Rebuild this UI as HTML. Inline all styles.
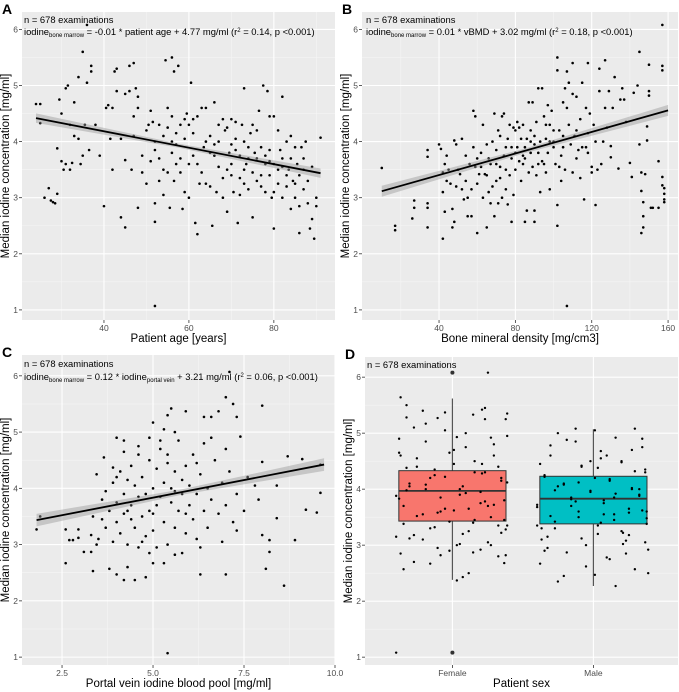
<!DOCTYPE html>
<html><head><meta charset="utf-8"><style>
body{margin:0;background:#fff}
svg{display:block;font-family:"Liberation Sans",Arial,sans-serif}
</style></head><body>
<svg id="fig" width="679" height="692" viewBox="0 0 679 692"></svg>
<script>
// ---- data ----
const ageTicks=[40,60,80];
const bmdTicks=[40,80,120,160];
const portalTicks=[2.5,5.0,7.5,10.0];
const yTicks=[1,2,3,4,5,6];
const sexCategories=["Female","Male"];
const agePoints=[[24,4.67],[25,4.67],[25,4.33],[26,3.0],[27,3.17],[27.5,2.95],[28,2.92],[28.5,2.9],[29,3.07],[29,3.88],[29.5,4.75],[30,4.5],[30,3.65],[30.5,3.5],[31,4.95],[31.5,5.0],[31,3.6],[32,3.5],[32,4.3],[32.5,3.62],[33,4.7],[33,4.1],[34,5.15],[34,4.05],[34.5,3.6],[35,5.6],[35,3.75],[35.5,4.3],[36,5.05],[36,6.08],[36.5,3.85],[37,5.35],[37,5.25],[38,4.3],[39,3.75],[40,2.85],[40.5,4.6],[41,4.65],[41.5,4.05],[42,4.6],[42,3.5],[42.5,5.25],[43,5.3],[43,4.9],[44,4.05],[44,2.65],[45,2.47],[45,4.85],[45,3.67],[46,5.35],[46,4.9],[46.5,3.5],[47,5.4],[47,4.45],[47.5,4.95],[48,4.6],[48,4.8],[49,3.75],[50,4.2],[50.5,4.3],[51,3.65],[51.5,4.35],[52,4.0],[52,3.85],[53,4.3],[53,3.7],[54,4.1],[54,3.5],[54.5,5.45],[55,3.45],[55,4.25],[55.5,2.82],[56,4.0],[56,3.8],[56.5,3.3],[57,4.15],[57,3.95],[57.5,5.35],[58,4.3],[58,3.45],[58.5,2.8],[59,3.1],[59,4.05],[59.5,4.5],[60,3.6],[60,4.3],[60.5,5.05],[61,4.4],[61,3.75],[61.5,2.55],[62,4.45],[62,2.35],[62.5,3.25],[52,1.07],[63,4.6],[63.5,3.9],[64,4.6],[64,3.25],[56,5.5],[56.5,5.25],[65,4.1],[65.5,2.5],[66,3.95],[66,4.7],[66.5,3.1],[67,4.3],[67,3.55],[73,4.95],[68,4.4],[68,3.0],[68.5,4.2],[69,4.25],[69,2.75],[69.5,3.8],[70,3.4],[70,4.4],[70.5,3.1],[71,4.35],[71,4.05],[71.5,2.55],[72,3.75],[72,3.35],[72.5,4.3],[73,3.5],[73,4.0],[73.5,3.6],[74,3.15],[74,3.7],[74.5,4.15],[75,3.45],[75,2.65],[75.5,3.8],[76,3.7],[76,3.3],[76.5,4.55],[77,3.9],[77,3.4],[77.5,5.0],[78,3.6],[78,3.1],[78.5,4.9],[79,3.4],[79,4.45],[79.5,3.0],[80,4.45],[80,3.1],[80,2.45],[81,3.25],[81,4.2],[81.5,3.85],[82,3.0],[82,3.55],[82,4.8],[83,3.2],[83,4.0],[83.5,3.5],[84,2.8],[84,4.1],[84.5,3.3],[85,3.9],[85,3.0],[85.5,3.6],[86,3.4],[86,2.85],[86.5,3.9],[87,3.15],[87,3.7],[87.5,4.0],[88,3.3],[88,2.9],[88.5,2.45],[86,2.37],[89,3.55],[89,2.62],[89.5,2.27],[90,3.0],[90,2.85],[91,4.07],[50,3.25],[52,2.9],[52,2.57],[54,3.05],[60,3.0],[65,3.2],[68,3.35],[70,3.95],[73,3.25],[76,4.2],[79,3.85],[82,3.7],[85,3.25],[58,3.7],[62,3.6],[66,3.75],[70,3.6],[74,3.9],[78,3.75],[84,3.7],[48,2.82],[49,3.45],[51,4.55],[53,3.3],[55,4.6],[57,3.6],[59,4.4],[61,4.15],[63,3.45],[65,3.8],[67,4.0],[69,3.5],[71,3.85],[75,4.3],[77,3.2],[79,3.65],[81,3.5],[83,3.4],[87,3.5],[80,3.6],[72,3.05],[64,4.0],[56,4.45],[47,4.1]];
const bmdPoints=[[10,3.53],[17,2.5],[17,2.42],[26,2.63],[27,2.95],[27,2.82],[34,3.85],[34,3.73],[34,2.9],[34,2.82],[34,2.47],[40,3.95],[41,3.87],[42,2.27],[42,3.1],[42,3.45],[43,3.6],[43,2.75],[44,3.75],[44,3.3],[45,3.5],[46,3.25],[47,2.8],[47,2.47],[48,2.57],[48,4.02],[49,3.95],[49,3.2],[50,3.5],[51,3.42],[52,4.05],[52,3.15],[53,2.97],[54,3.3],[55,2.67],[55,3.0],[56,3.6],[57,2.67],[57,3.15],[58,3.9],[58,4.55],[59,4.45],[59,3.55],[60,2.37],[60,3.25],[61,3.42],[62,3.8],[63,4.3],[63,3.0],[64,3.42],[65,2.47],[65,3.95],[66,3.7],[67,2.9],[67,3.6],[68,4.0],[68,3.2],[69,4.5],[69,2.67],[70,3.85],[70,3.3],[71,4.2],[71,2.9],[72,3.55],[72,4.1],[73,4.45],[73,3.0],[74,3.75],[74,4.5],[75,3.15],[75,3.9],[76,4.05],[76,2.88],[77,3.4],[77,4.3],[78,2.57],[78,3.7],[79,3.05],[80,4.2],[80,3.5],[81,4.35],[81,3.9],[82,3.65],[82,4.25],[83,3.3],[83,4.05],[84,4.3],[84,3.75],[85,3.9],[85,2.57],[86,2.77],[86,4.05],[87,3.45],[87,4.7],[88,3.8],[88,4.2],[89,3.55],[89,4.7],[90,2.57],[90,2.77],[90,3.95],[91,3.4],[91,4.35],[92,4.95],[92,3.8],[93,3.1],[93,4.0],[94,4.95],[94,3.65],[95,4.45],[96,4.05],[96,3.45],[97,4.65],[97,3.8],[98,4.3],[98,3.15],[99,4.55],[100,3.9],[100,4.2],[101,3.6],[102,2.87],[102,2.5],[102,5.5],[102,5.27],[103,4.2],[103,3.55],[104,3.3],[105,4.7],[105,3.9],[106,3.5],[106,4.95],[107,5.25],[107,1.07],[107,4.6],[108,4.3],[108,5.05],[109,3.95],[110,4.85],[110,3.45],[110,5.4],[111,4.1],[112,3.7],[112,4.8],[113,3.85],[114,4.4],[114,3.35],[115,5.05],[115,3.9],[116,2.97],[117,4.6],[117,3.9],[118,5.4],[118,4.15],[119,4.5],[120,3.45],[120,3.55],[121,4.3],[122,2.87],[122,4.0],[123,3.5],[124,5.3],[124,4.9],[125,3.6],[126,4.0],[127,5.45],[127,4.6],[128,4.25],[129,4.9],[130,3.92],[130,3.72],[131,4.6],[132,5.15],[134,3.52],[135,4.75],[136,4.95],[137,4.75],[138,4.35],[140,3.62],[141,3.37],[142,4.87],[144,5.0],[145,5.6],[145,3.95],[146,3.45],[146,3.12],[146,2.37],[147,2.47],[147,2.67],[147,2.92],[148,3.42],[149,4.27],[149,4.02],[150,4.9],[150,4.82],[150,5.37],[151,2.82],[152,2.82],[155,2.82],[155,3.65],[157,6.08],[157,5.35],[157,5.27],[157,3.37],[157,3.22],[158,3.17],[158,3.07],[158,2.97],[158,2.92],[60,3.7],[65,3.4],[70,3.6],[75,3.5],[80,3.8],[85,3.7],[90,4.1],[95,3.6],[100,4.0],[105,4.1],[62,3.55],[78,3.9],[88,4.0],[98,4.0],[66,3.1],[72,3.35],[79,4.25],[84,3.6],[92,3.6],[96,4.3],[104,3.75],[112,4.2],[118,3.8],[54,3.75]];
const portalPoints=[[1.8,3.27],[1.9,3.5],[2.6,2.67],[2.6,3.27],[2.7,3.08],[2.8,3.08],[2.95,3.27],[2.95,3.12],[3.1,2.87],[3.3,2.87],[3.3,3.17],[3.35,2.53],[3.35,3.5],[3.45,4.25],[3.45,3.0],[3.65,4.55],[3.8,2.57],[3.9,4.37],[4.0,2.47],[4.0,4.9],[4.2,4.85],[4.2,2.37],[4.3,2.6],[4.5,2.37],[4.8,2.42],[4.9,4.9],[5.0,5.17],[5.0,2.67],[5.4,4.6],[5.4,5.3],[5.5,5.42],[5.4,1.07],[5.3,2.67],[5.6,2.82],[5.9,5.37],[6.3,2.47],[6.4,5.27],[6.6,5.27],[6.8,5.37],[7.0,5.62],[7.1,6.07],[7.2,5.5],[7.0,2.47],[7.3,5.27],[7.4,4.92],[8.0,5.47],[8.0,4.47],[8.2,2.87],[8.1,2.57],[8.4,3.47],[8.6,2.27],[8.7,4.57],[8.9,3.08],[9.1,4.52],[9.2,3.62],[9.5,3.57],[9.6,3.92],[9.6,4.42],[7.8,4.05],[7.6,4.2],[7.9,3.8],[8.0,3.17],[8.2,3.08],[8.4,4.05],[3.6,3.8],[3.7,3.3],[3.8,3.6],[3.9,3.05],[3.9,4.1],[4.0,3.75],[4.0,3.4],[4.1,4.3],[4.1,3.2],[4.2,3.9],[4.2,3.55],[4.3,4.15],[4.3,3.0],[4.4,3.7],[4.4,4.4],[4.5,3.3],[4.5,4.05],[4.6,3.85],[4.6,2.95],[4.6,4.6],[4.7,3.5],[4.7,4.2],[4.8,3.15],[4.8,3.9],[4.9,4.5],[4.9,3.6],[5.0,4.0],[5.0,3.25],[5.1,4.35],[5.1,3.7],[5.1,2.95],[5.2,4.7],[5.2,3.85],[5.3,3.4],[5.3,4.1],[5.4,3.0],[5.4,4.45],[5.5,3.75],[5.5,4.0],[5.6,3.3],[5.6,4.3],[5.7,4.85],[5.7,3.6],[5.8,3.9],[5.8,4.15],[5.9,3.2],[5.9,4.4],[6.0,3.7],[6.0,4.05],[6.1,3.45],[6.1,4.6],[6.2,3.9],[6.2,3.1],[6.3,4.25],[6.4,3.6],[6.5,4.0],[6.5,3.3],[6.6,3.8],[6.7,4.5],[6.8,3.55],[6.9,4.1],[7.0,3.7],[7.1,4.3],[7.2,3.4],[7.3,3.9],[4.4,3.45],[5.0,3.55],[5.6,3.95],[4.2,4.65],[3.6,3.45],[6.3,2.95],[5.8,2.85],[4.9,2.85],[3.5,3.1],[7.0,4.7],[6.6,4.9],[5.3,5.05],[5.6,5.0],[4.6,4.75],[4.0,4.2],[6.9,3.05],[7.3,3.25],[7.5,3.6],[6.4,4.8],[5.2,4.85],[4.7,3.05],[4.3,3.6],[3.7,3.95],[5.9,3.55],[6.2,4.45]];
const femaleValues=[5.28,5.25,5.05,4.95,4.85,4.75,4.65,4.6,4.45,4.4,4.3,4.25,4.15,4.1,4.0,3.95,3.85,3.8,3.7,3.65,3.55,3.5,3.42,3.35,3.3,3.2,3.15,3.05,2.95,2.87,2.82,2.7,2.37,5.64,5.42,5.5,5.45,5.37,5.35,5.17,5.0,4.9,4.8,4.7,4.55,4.5,4.35,4.2,4.05,3.9,3.75,3.6,3.45,3.38,3.25,3.1,3.0,2.9,2.8,2.67,2.43,1.08,6.08,5.27,5.33,5.25,5.1,4.93,4.6,4.45,4.38,4.3,4.22,4.12,4.0,3.93,3.83,3.72,3.62,3.52,3.45,3.32,3.22,3.12,3.02,2.92,2.82,2.68,2.57,2.5,5.4,4.92,4.65,4.4,4.2,4.05,3.88,3.7,3.58,3.4,3.28,3.18,3.0,2.85,4.28,3.98,3.78,3.65,3.35,4.08];
const maleValues=[5.08,5.05,5.0,4.92,4.85,4.75,4.6,4.55,4.48,4.4,4.3,4.22,4.15,4.08,4.0,3.95,3.9,3.85,3.8,3.72,3.65,3.6,3.55,3.48,3.42,3.35,3.3,3.22,3.15,3.08,3.0,2.92,2.87,2.78,2.67,2.57,2.47,2.35,2.27,5.08,4.9,4.78,4.68,4.5,4.42,4.35,4.25,4.18,4.1,4.02,3.97,3.88,3.82,3.75,3.68,3.58,3.5,3.45,3.38,3.3,3.2,3.1,3.02,2.95,2.85,2.62,2.5,4.88,4.6,4.45,4.32,4.2,4.05,3.92,3.78,3.62,3.52,3.4,3.25,3.12,3.05,2.9,2.75,2.45,4.7,4.5,4.0,3.7,3.55,3.35,3.18,4.12,3.85,3.6,3.98,4.38];
const jitterOffsets=[-0.31,0.22,-0.05,0.37,-0.18,0.09,-0.36,0.28,0.01,-0.24,0.15,-0.12,0.33,-0.29,0.05,0.19,-0.08,0.35,-0.33,0.11,-0.2,0.26,-0.02,0.31,-0.15,0.07,-0.38,0.24,-0.1,0.14,0.36,-0.26,0.03,-0.35,0.2];
// box stats: [lowerWhisker, q1, median, q3, upperWhisker]
const femaleBox=[2.38,3.43,3.97,4.33,5.62];
const maleBox=[2.27,3.38,3.83,4.23,5.07];
const femaleOutliers=[6.08,1.08];
const maleOutliers=[];
// regression: [slope, intercept, xStart, xEnd, ciHalfWidth]
const ageFit=[-0.01465,4.77,24,91,0.06];
const bmdFit=[0.0096,3.02,10,160,0.07];
const portalFit=[0.125,3.21,1.8,9.7,0.08];

const NS="http://www.w3.org/2000/svg";
const svg=document.getElementById('fig');
function mk(tag,attrs,parent){const e=document.createElementNS(NS,tag);for(const k in attrs)e.setAttribute(k,attrs[k]);(parent||svg).appendChild(e);return e;}
function scale(d0,d1,r0,r1){return v=>r0+(v-d0)/(d1-d0)*(r1-r0);}

function panel(opt){
  const g=mk('g',{});
  
  
  const X=scale(opt.xd[0],opt.xd[1],opt.x0,opt.x1), Y=scale(opt.yd[0],opt.yd[1],opt.y1,opt.y0);
  const bg=mk('rect',{x:opt.x0,y:opt.y0,width:opt.x1-opt.x0,height:opt.y1-opt.y0,fill:'#EBEBEB'},g);
  
  
  for(let v=1.5;v<6.5;v+=1){mk('line',{x1:opt.x0,x2:opt.x1,y1:Y(v),y2:Y(v),stroke:'#F5F5F5','stroke-width':0.6},g);}
  (opt.xminor||[]).forEach(v=>mk('line',{x1:X(v),x2:X(v),y1:opt.y0,y2:opt.y1,stroke:'#F5F5F5','stroke-width':0.6},g));
  yTicks.forEach(v=>{
    mk('line',{x1:opt.x0,x2:opt.x1,y1:Y(v),y2:Y(v),stroke:'#fff','stroke-width':1.1},g);
    mk('line',{x1:opt.x0-3,x2:opt.x0,y1:Y(v),y2:Y(v),stroke:'#333','stroke-width':0.8},g);
    const t=mk('text',{x:opt.x0-4,y:Y(v)+3,'text-anchor':'end','font-size':8.5,fill:'#4D4D4D'},g);t.textContent=v;
    
    
  });
  opt.xticks.forEach((v,i)=>{
    const px=X(v);
    mk('line',{x1:px,x2:px,y1:opt.y0,y2:opt.y1,stroke:'#fff','stroke-width':1.1},g);
    mk('line',{x1:px,x2:px,y1:opt.y1,y2:opt.y1+3,stroke:'#333','stroke-width':0.8},g);
    const t=mk('text',{x:px,y:opt.y1+11,'text-anchor':'middle','font-size':8.5,fill:'#4D4D4D'},g);
    t.textContent=opt.xlabels?opt.xlabels[i]:(opt.fmt?opt.fmt(v):v);
    
    
  });
  const yt=mk('text',{x:0,y:0,transform:`translate(${opt.x0-13},${(opt.y0+opt.y1)/2}) rotate(-90)`,'text-anchor':'middle','font-size':11.5,fill:'#000'},g);
  yt.textContent='Median iodine concentration [mg/ml]';
  
  
  const xt=mk('text',{x:(opt.x0+opt.x1)/2,y:opt.y1+22,'text-anchor':'middle','font-size':11.5,fill:'#000'},g);
  xt.textContent=opt.xtitle;
  
  
  const lt=mk('text',{x:opt.x0-20,y:opt.y0+2,'font-size':14,'font-weight':'bold',fill:'#000'},g);
  lt.textContent=opt.letter;
  
  
  return {g,X,Y};
}
function scatter(p,pts){pts.forEach(d=>{const c=mk('circle',{cx:p.X(d[0]),cy:p.Y(d[1]),r:1.3,fill:'#000'},p.g);
  
  });}
function fit(p,f){
  const [m,b,xa,xb,ci]=f;const ya=m*xa+b,yb=m*xb+b;
  const band=mk('polygon',{points:`${p.X(xa)},${p.Y(ya+ci*1.4)} ${p.X((xa+xb)/2)},${p.Y(m*(xa+xb)/2+b+ci*0.6)} ${p.X(xb)},${p.Y(yb+ci*1.4)} ${p.X(xb)},${p.Y(yb-ci*1.4)} ${p.X((xa+xb)/2)},${p.Y(m*(xa+xb)/2+b-ci*0.6)} ${p.X(xa)},${p.Y(ya-ci*1.4)}`,fill:'#999','fill-opacity':0.45},p.g);
  
  
  const l=mk('line',{x1:p.X(xa),y1:p.Y(ya),x2:p.X(xb),y2:p.Y(yb),stroke:'#000','stroke-width':1.8},p.g);
  
  
}
function annot(p,x,y,html){
  const t=mk('text',{x:x,y:y,'font-size':9.4,fill:'#000'},p.g);t.innerHTML=html;
  
  
}
const sub=s=>`<tspan font-size="6" dy="2">${s}</tspan><tspan dy="-2"> </tspan>`;

const A=panel({name:'panel-a-age',letter:'A',x0:22,x1:335,y0:12,y1:320,xd:[20.7,94.4],yd:[0.82,6.31],xticks:ageTicks,xminor:[30,50,70,90],xtitle:'Patient age [years]'});
scatter(A,agePoints);fit(A,ageFit);
annot(A,24,23,'n = 678 examinations');
annot(A,24,35,'iodine'+sub('bone marrow')+'= -0.01 * patient age + 4.77 mg/ml (r<tspan font-size="6" dy="-3">2</tspan><tspan dy="3"> = 0.14, p &lt;0.001)</tspan>');
const B=panel({name:'panel-b-bmd',letter:'B',x0:362,x1:678,y0:12,y1:320,xd:[-0.36,165.2],yd:[0.82,6.31],xticks:bmdTicks,xminor:[20,60,100,140],xtitle:'Bone mineral density [mg/cm3]'});
scatter(B,bmdPoints);fit(B,bmdFit);
annot(B,366,23,'n = 678 examinations');
annot(B,366,35,'iodine'+sub('bone marrow')+'= 0.01 * vBMD + 3.02 mg/ml (r<tspan font-size="6" dy="-3">2</tspan><tspan dy="3"> = 0.18, p &lt;0.001)</tspan>');
const C=panel({name:'panel-c-portal',letter:'C',x0:22,x1:335,y0:355,y1:665,xd:[1.4,10.0],yd:[0.86,6.37],xticks:portalTicks,xminor:[3.75,6.25,8.75],fmt:v=>v.toFixed(1),xtitle:'Portal vein iodine blood pool [mg/ml]'});
scatter(C,portalPoints);fit(C,portalFit);
annot(C,24,367,'n = 678 examinations');
annot(C,24,380,'iodine'+sub('bone marrow')+'= 0.12 * iodine'+sub('portal vein')+'+ 3.21 mg/ml (r<tspan font-size="6" dy="-3">2</tspan><tspan dy="3"> = 0.06, p &lt;0.001)</tspan>');
const D=panel({name:'panel-d-sex',letter:'D',x0:365,x1:678,y0:357,y1:665,xd:[0.38,2.6],yd:[0.86,6.36],xticks:[1,2],xlabels:sexCategories,xtitle:'Patient sex'});
function box(cat,st,fill,outs){
  const cx=D.X(cat),hw=D.X(cat+0.38)-cx;
  const w=mk('line',{x1:cx,x2:cx,y1:D.Y(st[0]),y2:D.Y(st[4]),stroke:'#555','stroke-width':1.2},D.g);
  
  
  const r=mk('rect',{x:cx-hw,y:D.Y(st[3]),width:2*hw,height:D.Y(st[1])-D.Y(st[3]),fill:fill,stroke:'#333','stroke-width':1},D.g);
  
  
  const md=mk('line',{x1:cx-hw,x2:cx+hw,y1:D.Y(st[2]),y2:D.Y(st[2]),stroke:'#333','stroke-width':1.8},D.g);
  
  
  outs.forEach(v=>{const o=mk('circle',{cx:cx,cy:D.Y(v),r:2,fill:'#333'},D.g);
    
    });
}
box(1,femaleBox,'#F8766D',femaleOutliers);
box(2,maleBox,'#00BFC4',maleOutliers);
femaleValues.forEach((v,i)=>{const c=mk('circle',{cx:D.X(1+jitterOffsets[i%jitterOffsets.length]*1.05),cy:D.Y(v),r:1.2,fill:'#000'},D.g);
  
  });
maleValues.forEach((v,i)=>{const c=mk('circle',{cx:D.X(2+jitterOffsets[(i+7)%jitterOffsets.length]*1.05),cy:D.Y(v),r:1.2,fill:'#000'},D.g);
  
  });
annot(D,367,368,'n = 678 examinations');
</script>
</body></html>
